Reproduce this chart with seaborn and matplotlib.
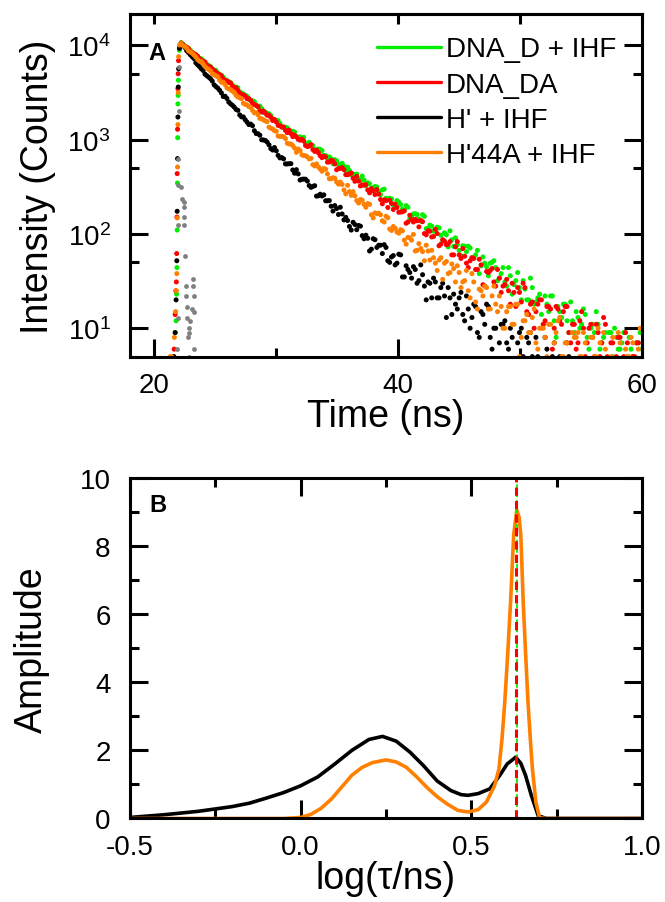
import numpy as np
import pandas as pd
import matplotlib
matplotlib.use("Agg")
import matplotlib.pyplot as plt
from matplotlib.lines import Line2D
from matplotlib.ticker import LogLocator, MultipleLocator, FixedLocator, NullFormatter
import seaborn as sns

sns.set_style("ticks")
plt.rcParams['font.family'] = ['Liberation Sans', 'DejaVu Sans']
plt.rcParams['mathtext.fontset'] = 'custom'
plt.rcParams['mathtext.rm'] = 'Liberation Sans'
plt.rcParams['mathtext.it'] = 'Liberation Sans:italic'
plt.rcParams['mathtext.bf'] = 'Liberation Sans:bold'
for key in ['text.color', 'axes.labelcolor', 'xtick.color', 'ytick.color', 'axes.edgecolor']:
    plt.rcParams[key] = 'black'

# ---- panel A: fluorescence decays, counts per 0.15 ns channel starting at 22.2 ns ----
samples = ["DNA_D + IHF", "DNA_DA", "H' + IHF", "H'44A + IHF"]
colors = ["#00ee00", "#ff0000", "#000000", "#ff8000"]

green_counts = [
    10662, 10250, 9823, 9286, 9340, 8914, 8384, 8172, 7922, 7690,
    7287, 7218, 6912, 6495, 6316, 6128, 5961, 5635, 5351, 5425,
    5119, 4817, 4834, 4602, 4344, 4240, 4132, 4022, 3799, 3613,
    3608, 3550, 3207, 3135, 3056, 2962, 2888, 2675, 2614, 2590,
    2538, 2337, 2228, 2269, 2138, 1958, 1958, 1909, 1879, 1804,
    1670, 1626, 1603, 1596, 1486, 1380, 1339, 1353, 1335, 1257,
    1216, 1227, 1208, 1076, 1060, 1072, 1025, 1060, 915, 908,
    938, 878, 866, 779, 784, 796, 790, 766, 682, 675,
    631, 657, 628, 557, 613, 597, 544, 532, 562, 525,
    468, 512, 472, 426, 430, 425, 432, 384, 370, 411,
    373, 326, 349, 341, 301, 310, 319, 315, 280, 261,
    294, 299, 239, 235, 239, 235, 201, 198, 226, 217,
    205, 184, 178, 200, 192, 145, 152, 163, 164, 161,
    144, 137, 160, 154, 114, 114, 124, 121, 107, 109,
    118, 116, 97, 85, 103, 98, 73, 108, 87, 74,
    91, 77, 67, 59, 75, 74, 65, 74, 71, 56,
    56, 60, 67, 38, 46, 57, 49, 45, 36, 49,
    50, 52, 44, 32, 34, 38, 44, 31, 28, 44,
    36, 23, 29, 32, 39, 27, 20, 32, 26, 20,
    20, 34, 27, 18, 19, 21, 23, 14, 11, 22,
    18, 15, 22, 22, 12, 8, 17, 15, 13, 18,
    18, 12, 9, 19, 12, 9, 15, 13, 10, 11,
    16, 14, 8, 6, 10, 11, 9, 15, 11, 6,
    7, 8, 9, 4, 9, 9, 5, 10, 8, 6,
    6, 7, 9, 2, 5, 8, 6, 5, 3, 7,
    7, 9, 6]
red_counts = [
    10631, 10140, 9711, 9615, 9206, 8606, 8432, 8168, 7992, 7640,
    7222, 6988, 6768, 6658, 6161, 5972, 5904, 5629, 5437, 5188,
    4973, 4907, 4744, 4397, 4254, 4200, 4054, 3999, 3708, 3536,
    3567, 3323, 3131, 2998, 2986, 2903, 2723, 2726, 2611, 2441,
    2356, 2307, 2243, 2027, 1964, 2014, 1913, 1817, 1819, 1728,
    1599, 1639, 1540, 1419, 1404, 1360, 1364, 1254, 1189, 1265,
    1162, 1079, 1120, 1072, 1007, 988, 1013, 967, 868, 846,
    857, 888, 785, 751, 774, 729, 677, 645, 668, 657,
    578, 581, 603, 594, 553, 480, 494, 496, 505, 481,
    426, 425, 434, 443, 390, 362, 408, 364, 323, 332,
    329, 334, 293, 273, 303, 287, 262, 296, 265, 232,
    209, 230, 226, 191, 228, 211, 182, 207, 191, 170,
    171, 172, 176, 130, 134, 158, 142, 134, 143, 138,
    119, 139, 135, 101, 98, 108, 107, 93, 94, 112,
    101, 75, 78, 87, 84, 77, 78, 83, 60, 60,
    73, 83, 60, 55, 70, 58, 49, 44, 52, 56,
    55, 42, 42, 54, 47, 29, 28, 40, 39, 41,
    43, 31, 28, 42, 34, 24, 28, 29, 33, 25,
    18, 30, 24, 17, 27, 24, 19, 30, 27, 15,
    14, 18, 19, 10, 15, 18, 20, 20, 11, 12,
    17, 17, 16, 6, 10, 17, 16, 12, 11, 15,
    17, 17, 9, 7, 11, 11, 6, 7, 12, 15,
    10, 5, 7, 10, 11, 8, 5, 11, 9, 5,
    7, 13, 11, 5, 4, 7, 7, 3, 5, 8,
    8, 4, 5, 9, 7, 1, 3, 5, 5, 7,
    7, 4, 3]
black_counts = [
    10497, 10109, 9499, 8781, 8386, 7978, 7586, 7240, 6539, 6232,
    5957, 5650, 5424, 4962, 4773, 4607, 4437, 4185, 3821, 3659,
    3523, 3342, 3131, 2870, 2890, 2737, 2507, 2401, 2315, 2218,
    2095, 2049, 1832, 1746, 1743, 1630, 1537, 1447, 1463, 1407,
    1245, 1163, 1156, 1116, 998, 993, 982, 943, 882, 804,
    777, 826, 763, 681, 641, 646, 627, 554, 553, 556,
    557, 477, 441, 481, 434, 373, 380, 382, 381, 364,
    326, 312, 320, 325, 252, 254, 264, 253, 260, 225,
    225, 226, 197, 175, 200, 186, 161, 192, 163, 141,
    150, 139, 120, 110, 133, 126, 111, 123, 121, 96,
    89, 97, 90, 66, 69, 89, 87, 72, 76, 76,
    62, 77, 72, 52, 50, 57, 59, 47, 49, 61,
    60, 35, 35, 46, 42, 39, 34, 45, 42, 30,
    32, 47, 37, 28, 20, 31, 30, 21, 34, 31,
    21, 21, 27, 30, 22, 13, 27, 21, 14, 23,
    18, 16, 21, 24, 14, 12, 22, 16, 10, 13,
    18, 17, 9, 8, 15, 14, 11, 18, 17, 8,
    6, 10, 10, 4, 7, 11, 11, 12, 7, 6,
    10, 8, 2, 1, 7, 9, 10, 5, 4, 8,
    7, 9, 5, 3, 8, 5, 2, 3, 4, 8,
    6, 1, 3, 5, 7, 3, 1, 5, 4, 1,
    2, 7, 5, 2, 1, 3, 3, 1, 3, 4,
    1, 1, 3, 4, 1, 1, 4, 2, 1, 3,
    2, 1, 1, 4, 3, 1, 2, 2, 1, 1,
    2, 2, 1, 1, 2, 2, 1, 3, 3, 1,
    1, 1, 1]
orange_counts = [
    10508, 9998, 9718, 9343, 8758, 8511, 8257, 7917, 7521, 7084,
    6805, 6757, 6387, 5982, 5708, 5571, 5374, 5021, 4886, 4763,
    4644, 4288, 4067, 4077, 3832, 3550, 3474, 3385, 3293, 3155,
    2957, 2837, 2784, 2722, 2433, 2372, 2337, 2243, 2203, 2042,
    1928, 1936, 1837, 1683, 1663, 1623, 1581, 1556, 1359, 1326,
    1300, 1247, 1227, 1094, 1084, 1085, 1078, 1028, 918, 903,
    898, 866, 815, 735, 796, 765, 691, 679, 675, 659,
    626, 633, 544, 527, 554, 516, 489, 463, 495, 485,
    433, 386, 385, 395, 390, 356, 338, 355, 335, 293,
    267, 328, 282, 257, 281, 254, 226, 213, 232, 228,
    206, 192, 210, 206, 160, 148, 167, 164, 166, 160,
    138, 134, 154, 149, 113, 109, 120, 115, 105, 102,
    111, 108, 86, 78, 92, 91, 86, 99, 66, 67,
    79, 70, 65, 52, 76, 66, 53, 67, 56, 49,
    41, 53, 56, 33, 49, 51, 38, 39, 48, 43,
    31, 46, 39, 27, 31, 32, 41, 25, 21, 38,
    31, 19, 16, 26, 25, 22, 28, 27, 16, 16,
    22, 28, 18, 15, 22, 17, 10, 10, 15, 17,
    17, 11, 11, 18, 18, 5, 8, 12, 12, 14,
    9, 9, 13, 16, 7, 6, 10, 10, 10, 8,
    5, 11, 11, 4, 7, 9, 12, 13, 5, 5,
    7, 7, 3, 3, 9, 8, 8, 9, 5, 5,
    9, 7, 4, 1, 8, 8, 5, 5, 10, 7,
    3, 9, 6, 3, 4, 5, 8, 4, 4, 9,
    7, 2, 1, 6, 5, 5, 8, 7, 3, 3,
    6, 10, 4]

# rising edge of each decay (ns, counts)
green_rise_t = [21.55, 21.72, 21.78, 21.82, 21.85, 21.87, 21.89, 21.91, 21.93, 21.95, 21.97, 22.05]
green_rise = [5, 9, 12, 23, 44, 110, 347, 1050, 2400, 2950, 4270, 8900]
red_rise_t = [21.62, 21.70, 21.76, 21.80, 21.83, 21.85, 21.87, 21.90, 21.93, 21.95, 21.98, 22.06]
red_rise = [6, 14, 25, 31, 62, 151, 437, 1290, 3470, 5010, 6900, 9600]
black_rise_t = [21.60, 21.70, 21.78, 21.84, 21.87, 21.90, 21.93, 21.96, 21.99, 22.06]
black_rise = [5, 9, 20, 52, 174, 630, 1740, 3620, 5650, 9300]
orange_rise_t = [21.30, 21.42, 21.64, 21.74, 21.80, 21.84, 21.87, 21.90, 21.93, 21.96, 21.99, 22.06]
orange_rise = [5, 5, 8, 15, 25, 38, 148, 513, 1445, 3160, 7600, 10100]

# instrument response (grey points)
irf_t = [21.87, 21.90, 21.92, 21.93, 21.96, 21.98, 21.99, 22.18, 22.26, 22.39, 22.44, 22.40, 22.47, 22.55, 22.60,
         22.62, 22.66, 22.70, 22.75, 22.80, 22.85, 22.94, 23.05, 23.20, 23.20, 23.25, 23.25, 23.25, 22.80]
irf_counts = [6, 13, 125, 630, 330, 2040, 5900, 315, 235, 220, 195, 150, 125, 58, 28,
              22, 13, 17, 8, 10, 9, 12, 16, 33, 28, 22, 15, 6, 5]

# ---- panel B: lifetime distributions ----
black_logtau = [-0.5, -0.45, -0.4, -0.35, -0.3, -0.25, -0.2, -0.15, -0.1, -0.05, 0.0, 0.05, 0.1, 0.15,
                0.2, 0.24, 0.28, 0.32, 0.36, 0.40, 0.44, 0.47, 0.49, 0.52, 0.554, 0.583, 0.605, 0.63,
                0.645, 0.659, 0.676, 0.696, 0.72, 0.75, 1.0]
black_amp = [0.03, 0.07, 0.11, 0.16, 0.21, 0.28, 0.35, 0.45, 0.6, 0.76, 0.96, 1.22, 1.6, 2.0,
             2.32, 2.41, 2.27, 1.95, 1.55, 1.1, 0.82, 0.7, 0.68, 0.73, 0.87, 1.26, 1.6, 1.8,
             1.62, 1.26, 0.67, 0.08, 0.0, 0.0, 0.0]
orange_logtau = [-0.5, -0.05, 0.0, 0.03, 0.06, 0.09, 0.12, 0.15, 0.18, 0.21, 0.25, 0.28, 0.31, 0.34,
                 0.37, 0.40, 0.43, 0.46, 0.49, 0.52, 0.544, 0.568, 0.581, 0.59, 0.598, 0.607, 0.615,
                 0.624, 0.633, 0.64, 0.645, 0.652, 0.659, 0.666, 0.673, 0.679, 0.689, 0.70, 0.72, 1.0]
orange_amp = [0.0, 0.0, 0.03, 0.12, 0.3, 0.57, 0.92, 1.27, 1.5, 1.64, 1.72, 1.66, 1.5, 1.22,
              0.91, 0.64, 0.42, 0.24, 0.19, 0.26, 0.48, 0.96, 1.46, 2.35, 3.42, 4.9, 6.36,
              8.32, 9.05, 8.85, 8.32, 6.36, 4.85, 3.42, 2.3, 1.46, 0.48, 0.02, 0.0, 0.0]
# single-lifetime samples (DNA_D + IHF, DNA_DA) shown as vertical dashed lines
tau_D = 0.635
tau_DA = 0.630

# ---------------------------------------------------------------
t_chan = np.round(22.2 + 0.15 * np.arange(len(red_counts)), 2)
rise_times = [green_rise_t, red_rise_t, black_rise_t, orange_rise_t]
rise_counts = [green_rise, red_rise, black_rise, orange_rise]
decay_counts = [green_counts, red_counts, black_counts, orange_counts]

frames = []
for name, rt, rc, cnt in zip(samples, rise_times, rise_counts, decay_counts):
    frames.append(pd.DataFrame({"time": list(rt) + list(t_chan),
                                "counts": list(rc) + list(cnt),
                                "sample": name}))
decay = pd.concat(frames, ignore_index=True)
palette = dict(zip(samples, colors))

dist = pd.concat([
    pd.DataFrame({"logtau": black_logtau, "amp": black_amp, "sample": samples[2]}),
    pd.DataFrame({"logtau": orange_logtau, "amp": orange_amp, "sample": samples[3]}),
], ignore_index=True)

fig = plt.figure(figsize=(6.65, 9.03), dpi=100)
ax1 = fig.add_axes([0.1955, 0.6035, 0.7699, 0.3798])
ax2 = fig.add_axes([0.1955, 0.0925, 0.7699, 0.3771])

# panel A
ax1.set_yscale("log")
sns.scatterplot(data=decay, x="time", y="counts", hue="sample", palette=palette,
                s=13, linewidth=0, legend=False, ax=ax1)
sns.scatterplot(x=irf_t, y=irf_counts, color="#808080", s=12, linewidth=0, ax=ax1)
ax1.set_xlim(18, 60)
ax1.set_ylim(4.95, 21500)
ax1.xaxis.set_major_locator(FixedLocator([20, 40, 60]))
ax1.xaxis.set_minor_locator(FixedLocator([30, 50]))
ax1.yaxis.set_major_locator(LogLocator(base=10, numticks=10))
ax1.yaxis.set_minor_locator(LogLocator(base=10, subs=[5.0], numticks=10))
ax1.yaxis.set_minor_formatter(NullFormatter())
ax1.set_xlabel("Time (ns)", fontsize=27, labelpad=0)
ax1.set_ylabel("Intensity (Counts)", fontsize=27, labelpad=8)
ax1.text(0.035, 0.869, "A", transform=ax1.transAxes, fontsize=17, fontweight="bold")

handles = [Line2D([], [], color=c, lw=2.4) for c in colors]
ax1.legend(handles, samples, loc="upper right", bbox_to_anchor=(0.95, 0.935), frameon=False,
           fontsize=20, handlelength=2.3, handletextpad=0.2, labelspacing=0.33,
           borderpad=0, borderaxespad=0)

# panel B
sns.lineplot(data=dist, x="logtau", y="amp", hue="sample",
             palette={samples[2]: colors[2], samples[3]: colors[3]},
             linewidth=2.6, estimator=None, legend=False, ax=ax2)
ax2.axvline(tau_D, color=colors[0], lw=1.3, ls=(2.7, (2.7, 1.7)))
ax2.axvline(tau_DA, color=colors[1], lw=2.2, ls=(0, (2.7, 1.7)))
ax2.set_xlim(-0.5, 1.0)
ax2.set_ylim(0, 10)
ax2.xaxis.set_major_locator(MultipleLocator(0.5))
ax2.xaxis.set_minor_locator(MultipleLocator(0.25))
ax2.yaxis.set_major_locator(MultipleLocator(2))
ax2.yaxis.set_minor_locator(MultipleLocator(1))
ax2.xaxis.set_major_formatter(plt.FuncFormatter(lambda v, p: f"{v:.1f}"))
ax2.set_xlabel("log(\u03c4/ns)", fontsize=27, labelpad=0)
ax2.set_ylabel("Amplitude", fontsize=27, labelpad=21)
ax2.text(0.037, 0.903, "B", transform=ax2.transAxes, fontsize=17, fontweight="bold")

for ax in (ax1, ax2):
    for sp in ax.spines.values():
        sp.set_linewidth(2.2)
        sp.set_visible(True)
    ax.tick_params(which="both", direction="in", top=True, right=True, width=2.2,
                   labelsize=20, pad=11)
    ax.tick_params(axis="y", which="both", pad=14)
    ax.tick_params(which="major", length=13)
    ax.tick_params(which="minor", length=6.5)

# panel A: short ticks along the top edge
ax1.tick_params(axis="x", which="both", top=False)
sec = ax1.secondary_xaxis("top")
sec.xaxis.set_major_locator(FixedLocator([20, 30, 40, 50, 60]))
sec.tick_params(direction="in", length=7, width=2.2, labeltop=False)
sec.spines["top"].set_linewidth(2.2)

fig.savefig("out.png", dpi=100)
